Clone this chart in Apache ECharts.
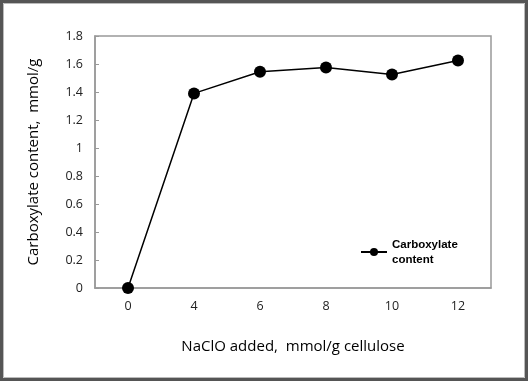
<!DOCTYPE html>
<html><head><meta charset="utf-8">
<script src="https://cdn.jsdelivr.net/npm/echarts@6/dist/echarts.min.js"></script>
<style>html,body{margin:0;padding:0;background:#fff}#c{width:528px;height:381px}</style>
</head><body><div id="c"></div>
<script>
const categories = ['0','4','6','8','10','12'];
const carboxylate = [0, 1.39, 1.545, 1.575, 1.525, 1.625];
const seriesName = 'Carboxylate\ncontent';
const xTitle = 'NaClO added,  mmol/g cellulose';
const yTitle = 'Carboxylate content,  mmol/g';

const font = '"Open Sans", "Liberation Sans", sans-serif';
const chart = echarts.init(document.getElementById('c'), null, {renderer:'canvas'});
chart.setOption({
  animation:false,
  backgroundColor:'#fff',
  graphic:[
    {type:'rect', shape:{x:1.5,y:1.5,width:525,height:378}, style:{fill:'none', stroke:'#555', lineWidth:3}, z:100},
    {type:'rect', shape:{x:3.5,y:3.5,width:521,height:374}, style:{fill:'none', stroke:'#bbb', lineWidth:1}, z:100}
  ],
  grid:{left:95, right:37, top:36, bottom:93, show:true, borderColor:'#999', borderWidth:1.5},
  legend:{
    data:[seriesName], left:355, top:232, orient:'vertical',
    itemWidth:26, itemHeight:10,
    textStyle:{fontFamily:'"Liberation Sans", sans-serif', fontSize:11.5, fontWeight:'bold', color:'#000', lineHeight:15},
    itemStyle:{color:'#000'}
  },
  xAxis:{
    type:'category', data:categories, boundaryGap:true,
    name:xTitle, nameLocation:'middle', nameGap:51,
    nameTextStyle:{fontFamily:font, fontSize:15, color:'#000'},
    axisLine:{lineStyle:{color:'#999', width:1.5}},
    axisTick:{inside:true, length:4, lineStyle:{color:'#999'}},
    axisLabel:{fontFamily:font, fontSize:12.5, color:'#222', margin:12}
  },
  yAxis:{
    type:'value', min:0, max:1.8, interval:0.2,
    name:yTitle, nameLocation:'middle', nameGap:54,
    nameTextStyle:{fontFamily:font, fontSize:15, color:'#000'},
    axisLine:{show:true, lineStyle:{color:'#999', width:1.5}},
    axisTick:{show:true, inside:true, length:4, lineStyle:{color:'#999'}},
    splitLine:{show:false},
    axisLabel:{fontFamily:font, fontSize:12.5, color:'#222', margin:12,
      formatter:v=>String(Math.round(v*10)/10)}
  },
  series:[{
    name:seriesName, type:'line', data:carboxylate,
    symbol:'circle', symbolSize:12,
    lineStyle:{color:'#000', width:1.5},
    itemStyle:{color:'#000'}
  }]
});
</script></body></html>
